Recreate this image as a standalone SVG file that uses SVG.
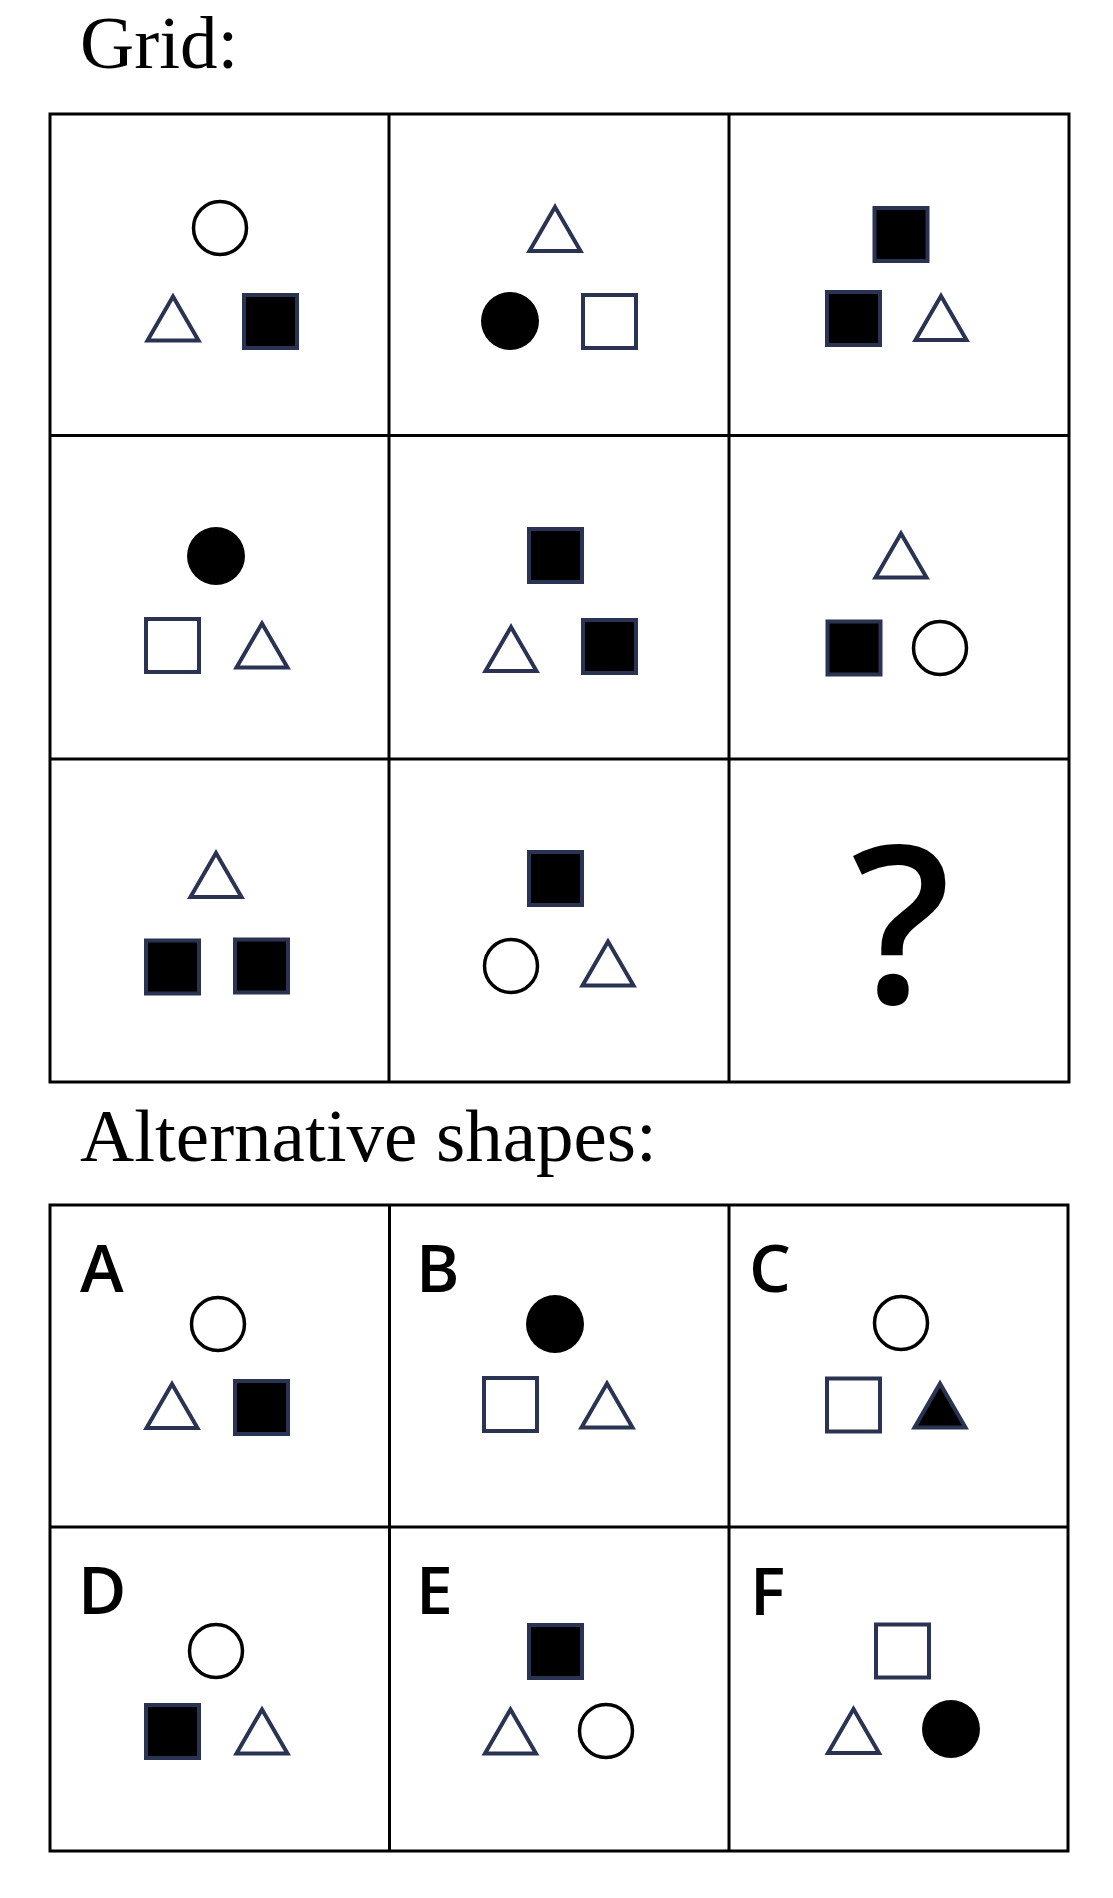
<svg xmlns="http://www.w3.org/2000/svg" xmlns:xlink="http://www.w3.org/1999/xlink" width="1113" height="1898" viewBox="0 0 1113 1898">
<style>
.bg{fill:#fff}
.line{fill:none;stroke:#000;stroke-width:3}
.title{font-family:"Liberation Serif","Times New Roman",serif;font-size:75px;fill:#000}
.lbl{font-family:"Open Sans","Liberation Sans",sans-serif;font-weight:600;font-size:66px;fill:#000}
.q{font-family:"Open Sans","Liberation Sans",sans-serif;font-weight:600;font-size:220px;fill:#000}
.tri{fill:#fff;stroke:#2b3353;stroke-width:4;stroke-linejoin:miter}
.trif{fill:#000;stroke:#2b3353;stroke-width:4;stroke-linejoin:miter}
.sq{fill:#fff;stroke:#2b3353;stroke-width:4}
.sqf{fill:#000;stroke:#2b3353;stroke-width:4}
.co{fill:#fff;stroke:#000;stroke-width:3.5}
.cf{fill:#000}
</style>
<defs>
<path id="tri" d="M0,-21 L25.5,23 L-25.5,23 Z"/>
<rect id="sq" x="-26.5" y="-26.5" width="53" height="53"/>
<circle id="co" r="26.5"/>
<circle id="cf" r="29"/>
</defs>
<rect class="bg" x="0" y="0" width="1113" height="1898"/>

<text id="grid-title" class="title" x="80" y="68">Grid:</text>
<text id="alt-title" class="title" x="80" y="1161">Alternative shapes:</text>

<g id="grid-lines">
<rect class="line" x="50" y="114" width="1019" height="968"/>
<line class="line" x1="389" y1="114" x2="389" y2="1082"/>
<line class="line" x1="729" y1="114" x2="729" y2="1082"/>
<line class="line" x1="50" y1="435.5" x2="1069" y2="435.5"/>
<line class="line" x1="50" y1="759" x2="1069" y2="759"/>
</g>

<g id="cell-r1c1">
<use href="#co" class="co" x="220" y="228"/>
<use href="#tri" class="tri" x="173" y="317.5"/>
<use href="#sq" class="sqf" x="270.5" y="321.5"/>
</g>
<g id="cell-r1c2">
<use href="#tri" class="tri" x="555" y="228"/>
<use href="#cf" class="cf" x="510" y="321"/>
<use href="#sq" class="sq" x="609.5" y="321.5"/>
</g>
<g id="cell-r1c3">
<use href="#sq" class="sqf" x="901" y="234.5"/>
<use href="#sq" class="sqf" x="853.5" y="318.5"/>
<use href="#tri" class="tri" x="941" y="317"/>
</g>
<g id="cell-r2c1">
<use href="#cf" class="cf" x="216" y="556"/>
<use href="#sq" class="sq" x="172.5" y="645.5"/>
<use href="#tri" class="tri" x="262" y="644.5"/>
</g>
<g id="cell-r2c2">
<use href="#sq" class="sqf" x="555.5" y="555.5"/>
<use href="#tri" class="tri" x="511" y="648"/>
<use href="#sq" class="sqf" x="609.5" y="646.5"/>
</g>
<g id="cell-r2c3">
<use href="#tri" class="tri" x="901" y="554.5"/>
<use href="#sq" class="sqf" x="854" y="648"/>
<use href="#co" class="co" x="940" y="648"/>
</g>
<g id="cell-r3c1">
<use href="#tri" class="tri" x="216" y="874"/>
<use href="#sq" class="sqf" x="172.5" y="967"/>
<use href="#sq" class="sqf" x="261.5" y="966"/>
</g>
<g id="cell-r3c2">
<use href="#sq" class="sqf" x="555.5" y="878.5"/>
<use href="#co" class="co" x="511" y="966"/>
<use href="#tri" class="tri" x="608" y="962.5"/>
</g>
<g id="cell-r3c3">
<text class="q" x="901" y="1003" text-anchor="middle">?</text>
</g>

<g id="alt-lines">
<rect class="line" x="50" y="1205" width="1018" height="646"/>
<line class="line" x1="389.5" y1="1205" x2="389.5" y2="1851"/>
<line class="line" x1="729" y1="1205" x2="729" y2="1851"/>
<line class="line" x1="50" y1="1527" x2="1068" y2="1527"/>
</g>

<g id="alt-A">
<text class="lbl" x="80" y="1292">A</text>
<use href="#co" class="co" x="218" y="1324"/>
<use href="#tri" class="tri" x="172" y="1405"/>
<use href="#sq" class="sqf" x="261.5" y="1407.5"/>
</g>
<g id="alt-B">
<text class="lbl" x="416" y="1292">B</text>
<use href="#cf" class="cf" x="555" y="1324"/>
<use href="#sq" class="sq" x="510.5" y="1404.5"/>
<use href="#tri" class="tri" x="607" y="1404.5"/>
</g>
<g id="alt-C">
<text class="lbl" x="749" y="1292">C</text>
<use href="#co" class="co" x="901" y="1323"/>
<use href="#sq" class="sq" x="853.5" y="1405"/>
<use href="#tri" class="trif" x="940" y="1404.5"/>
</g>
<g id="alt-D">
<text class="lbl" x="78" y="1614">D</text>
<use href="#co" class="co" x="216" y="1651"/>
<use href="#sq" class="sqf" x="172.5" y="1731.5"/>
<use href="#tri" class="tri" x="262" y="1730.5"/>
</g>
<g id="alt-E">
<text class="lbl" x="416" y="1614">E</text>
<use href="#sq" class="sqf" x="555.5" y="1651.5"/>
<use href="#tri" class="tri" x="510.5" y="1730.5"/>
<use href="#co" class="co" x="606" y="1731"/>
</g>
<g id="alt-F">
<text class="lbl" x="750" y="1615">F</text>
<use href="#sq" class="sq" x="902.5" y="1651"/>
<use href="#tri" class="tri" x="853.5" y="1730"/>
<use href="#cf" class="cf" x="951" y="1729"/>
</g>
</svg>
